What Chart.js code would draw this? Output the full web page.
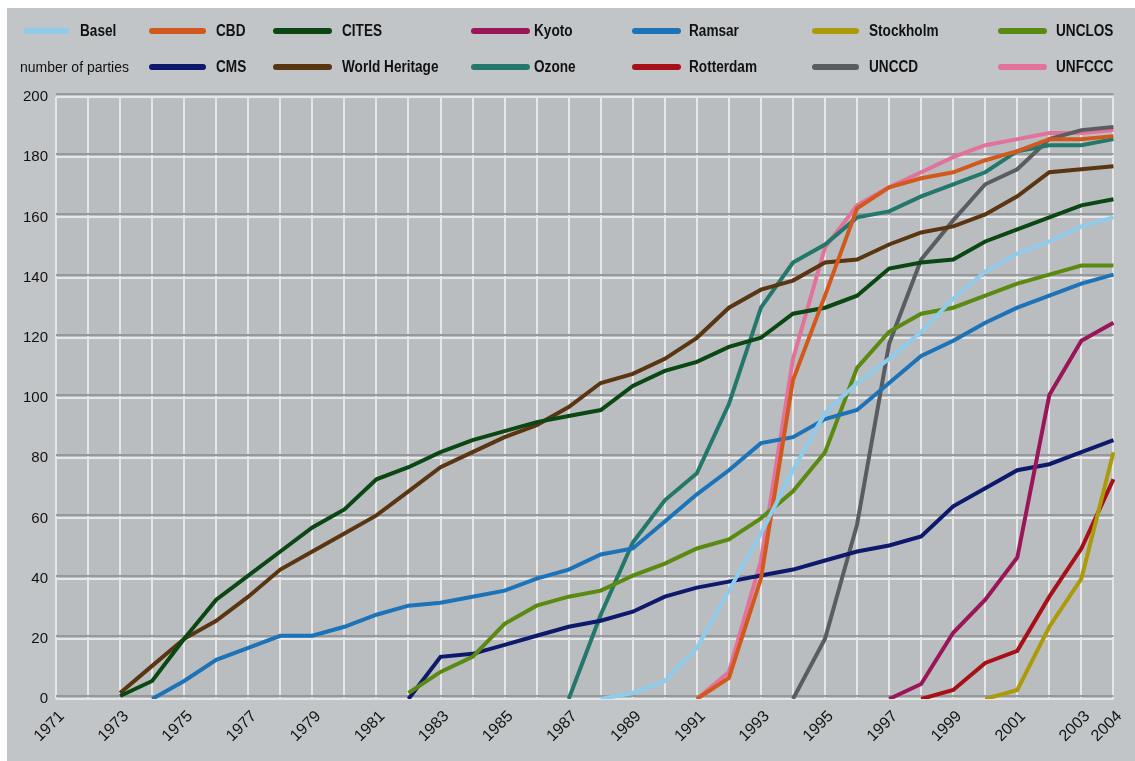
<!DOCTYPE html>
<html>
<head>
<meta charset="utf-8">
<script src="https://cdn.jsdelivr.net/npm/chart.js@4/dist/chart.umd.min.js"></script>
<style>
    html, body { margin: 0; padding: 0; background: #ffffff; }
    body { width: 1135px; height: 761px; position: relative; overflow: hidden;
           font-family: "Liberation Sans", Arial, sans-serif; }
    #bg { position: absolute; left: 7px; top: 8px; right: 0; bottom: 0; background: #c2c5c7; }
    #chart { position: absolute; left: 0; top: 0; }
    .item { position: absolute; height: 20px; line-height: 20px; font-size: 16px; font-weight: bold; color: #111;
            white-space: nowrap; transform: scaleX(0.85); transform-origin: 0 50%; }
    .swatch { position: absolute; height: 6px; border-radius: 3px; }
    .note { position: absolute; font-size: 14px; line-height: 20px; color: #111; white-space: nowrap; }
</style>
</head>
<body>
<div id="bg"></div>
<canvas id="chart" width="1135" height="761"></canvas>
<div id="legend"></div>
<script>
// x axis categories
const years = [1971, 1972, 1973, 1974, 1975, 1976, 1977, 1978, 1979, 1980, 1981, 1982,
    1983, 1984, 1985, 1986, 1987, 1988, 1989, 1990, 1991, 1992, 1993, 1994, 1995, 1996,
    1997, 1998, 1999, 2000, 2001, 2002, 2003, 2004];

// number of parties per convention, from the year it starts
const basel = [0, 2, 6, 17, 36, 55, 76, 95, 105, 113, 122, 133, 142, 148, 152, 157, 160];           // from 1988
const cbd = [0, 7, 40, 106, 134, 163, 170, 173, 175, 179, 182, 186, 186, 187];                      // from 1991
const cites = [1, 6, 20, 33, 41, 49, 57, 63, 73, 77, 82, 86, 89, 92, 94, 96, 104, 109, 112, 117,
    120, 128, 130, 134, 143, 145, 146, 152, 156, 160, 164, 166];                                     // from 1973
const kyoto = [0, 5, 22, 33, 47, 101, 119, 125];                                                     // from 1997
const ramsar = [0, 6, 13, 17, 21, 21, 24, 28, 31, 32, 34, 36, 40, 43, 48, 50, 59, 68, 76, 85, 87,
    93, 96, 105, 114, 119, 125, 130, 134, 138, 141];                                                 // from 1974
const stockholm = [0, 3, 24, 40, 82];                                                                // from 2000
const unclos = [2, 9, 14, 25, 31, 34, 36, 41, 45, 50, 53, 60, 69, 82, 110, 122, 128, 130, 134, 138,
    141, 144, 144];                                                                                  // from 1982
const cms = [0, 14, 15, 18, 21, 24, 26, 29, 34, 37, 39, 41, 43, 46, 49, 51, 54, 64, 70, 76, 78, 82, 86]; // from 1982
const worldHeritage = [2, 11, 20, 26, 34, 43, 49, 55, 61, 69, 77, 82, 87, 91, 97, 105, 108, 113,
    120, 130, 136, 139, 145, 146, 151, 155, 157, 161, 167, 175, 176, 177];                           // from 1973
const ozone = [0, 28, 52, 66, 75, 98, 130, 145, 151, 160, 162, 167, 171, 175, 182, 184, 184, 186];  // from 1987
const rotterdam = [0, 3, 12, 16, 34, 50, 73];                                                        // from 1998
const unccd = [0, 20, 58, 118, 146, 159, 171, 176, 186, 189, 190];                                   // from 1994
const unfccc = [0, 9, 46, 113, 150, 164, 170, 175, 180, 184, 186, 188, 188, 189];                   // from 1991

const yTicks = [0, 20, 40, 60, 80, 100, 120, 140, 160, 180, 200];

// line up a series with the year axis
function fromYear(start, values) {
    const out = years.map(() => null);
    values.forEach((v, i) => { out[years.indexOf(start) + i] = v; });
    return out;
}

const series = [
    { label: 'Basel', color: '#8fcbea', start: 1988, values: basel },
    { label: 'CBD', color: '#d2591d', start: 1991, values: cbd },
    { label: 'CITES', color: '#0b4713', start: 1973, values: cites },
    { label: 'Kyoto', color: '#9a1658', start: 1997, values: kyoto },
    { label: 'Ramsar', color: '#1c73b8', start: 1974, values: ramsar },
    { label: 'Stockholm', color: '#ab9b0b', start: 2000, values: stockholm },
    { label: 'UNCLOS', color: '#5b8a12', start: 1982, values: unclos },
    { label: 'CMS', color: '#0d1a6c', start: 1982, values: cms },
    { label: 'World Heritage', color: '#5a3511', start: 1973, values: worldHeritage },
    { label: 'Ozone', color: '#24776b', start: 1987, values: ozone },
    { label: 'Rotterdam', color: '#a61016', start: 1998, values: rotterdam },
    { label: 'UNCCD', color: '#595d60', start: 1994, values: unccd },
    { label: 'UNFCCC', color: '#e3729b', start: 1991, values: unfccc }
];

// legend: two rows of seven slots, the first slot of row two holds the axis note
const slotSwatch = [24, 149, 273, 471, 632, 812, 998];
const slotWidth = [45, 57, 59, 59, 49, 47, 49];
const slotText = [80, 216, 342, 534, 689, 869, 1056];
const rowMid = [31, 67];
const legend = document.getElementById('legend');
series.forEach((s, i) => {
    const row = i < 7 ? 0 : 1;
    const col = i < 7 ? i : i - 6;
    const sw = document.createElement('div');
    sw.className = 'swatch';
    sw.style.left = slotSwatch[col] + 'px';
    sw.style.top = (rowMid[row] - 3) + 'px';
    sw.style.width = slotWidth[col] + 'px';
    sw.style.background = s.color;
    legend.appendChild(sw);
    const tx = document.createElement('div');
    tx.className = 'item';
    tx.style.left = slotText[col] + 'px';
    tx.style.top = (rowMid[row] - 10) + 'px';
    tx.textContent = s.label;
    legend.appendChild(tx);
});
const note = document.createElement('div');
note.className = 'note';
note.style.left = '20px';
note.style.top = (rowMid[1] - 10) + 'px';
note.textContent = 'number of parties';
legend.appendChild(note);

// plot background and the darker shadow line above each horizontal grid line
const plotDecor = {
    id: 'plotDecor',
    beforeDraw(chart) {
        const { ctx, chartArea: a } = chart;
        ctx.save();
        ctx.fillStyle = '#babdc0';
        ctx.fillRect(a.left, a.top, a.right - a.left, a.bottom - a.top);
        ctx.restore();
    },
    beforeDatasetsDraw(chart) {
        const { ctx, chartArea: a } = chart;
        const y = chart.scales.y;
        ctx.save();
        ctx.strokeStyle = '#95999c';
        ctx.lineWidth = 2;
        y.ticks.forEach(t => {
            const py = Math.round(y.getPixelForValue(t.value)) - 3;
            ctx.beginPath();
            ctx.moveTo(a.left, py);
            ctx.lineTo(a.right, py);
            ctx.stroke();
        });
        ctx.restore();
    }
};

const axisFont = { family: '"Liberation Sans", Arial, sans-serif', size: 15 };

new Chart(document.getElementById('chart'), {
    type: 'line',
    data: {
        labels: years,
        datasets: series.map(s => ({
            label: s.label,
            data: fromYear(s.start, s.values),
            borderColor: s.color,
            backgroundColor: s.color,
            borderWidth: 4,
            pointRadius: 0,
            tension: 0,
            fill: false
        }))
    },
    options: {
        responsive: false,
        animation: false,
        layout: { padding: { left: 0, top: 97, right: 16, bottom: 0 } },
        plugins: { legend: { display: false }, tooltip: { enabled: false } },
        scales: {
            x: {
                type: 'category',
                offset: false,
                grid: { color: '#e4e6e7', lineWidth: 2, drawTicks: false },
                border: { display: false },
                ticks: {
                    autoSkip: false,
                    maxRotation: 45,
                    minRotation: 45,
                    padding: 8,
                    labelOffset: 6,
                    color: '#111',
                    font: { family: axisFont.family, size: 16 },
                    callback: function (value, index) {
                        const yr = years[index];
                        return (yr % 2 === 1 || yr === 2004) ? String(yr) : '';
                    }
                },
                afterFit: scale => { scale.height = 62; }
            },
            y: {
                min: 0,
                max: 200,
                afterBuildTicks: scale => { scale.ticks = yTicks.map(v => ({ value: v })); },
                grid: { color: '#e4e6e7', lineWidth: 2, drawTicks: false },
                border: { display: false },
                ticks: { padding: 8, color: '#111', font: axisFont },
                afterFit: scale => { scale.width = 56; }
            }
        }
    },
    plugins: [plotDecor]
});
</script>
</body>
</html>
